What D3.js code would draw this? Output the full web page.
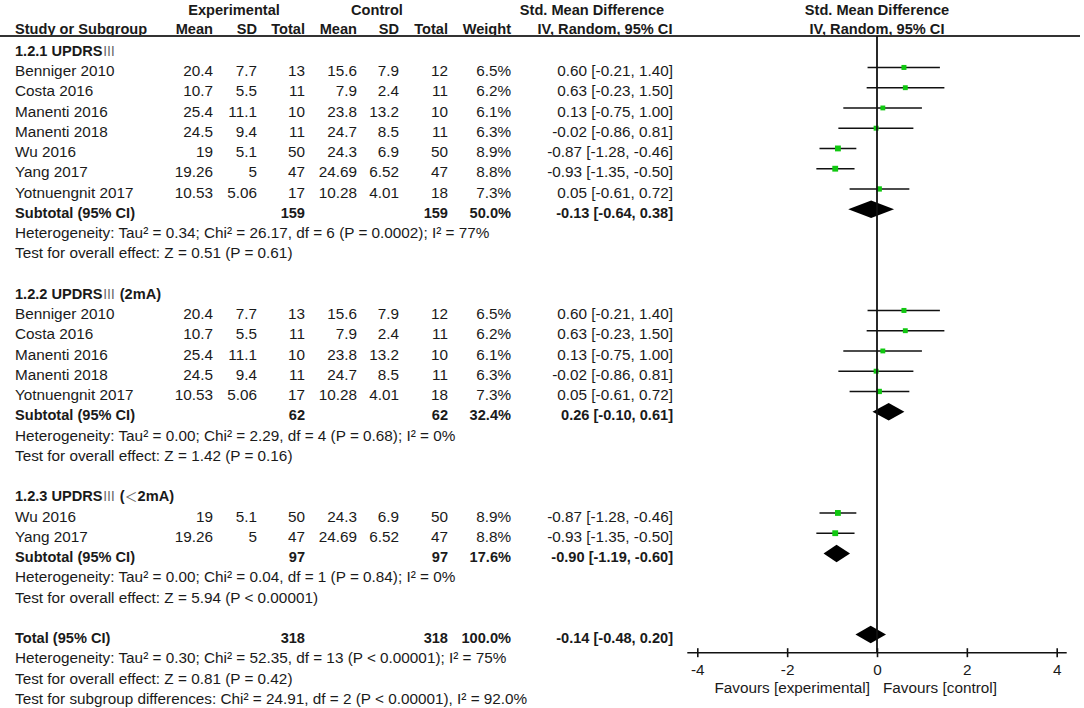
<!DOCTYPE html>
<html>
<head>
<meta charset="utf-8">
<script src="https://cdn.jsdelivr.net/npm/d3@7"></script>
<style>
  html, body { margin: 0; padding: 0; background: #fff; }
  svg { display: block; }
  text { font-family: "Liberation Sans", Arial, sans-serif; font-size: 15.3px; fill: #1a1a1a; }
  .b { font-weight: bold; font-size: 14.6px; }
</style>
</head>
<body>
<svg id="chart" width="1084" height="708"></svg>
<script>
// ---------------- DATA ----------------
const studyNames = ["Benniger 2010", "Costa 2016", "Manenti 2016", "Manenti 2018", "Wu 2016", "Yang 2017", "Yotnuengnit 2017"];
const expMean = [20.4, 10.7, 25.4, 24.5, 19, 19.26, 10.53];
const expSD   = [7.7, 5.5, 11.1, 9.4, 5.1, 5, 5.06];
const expN    = [13, 11, 10, 11, 50, 47, 17];
const ctlMean = [15.6, 7.9, 23.8, 24.7, 24.3, 24.69, 10.28];
const ctlSD   = [7.9, 2.4, 13.2, 8.5, 6.9, 6.52, 4.01];
const ctlN    = [12, 11, 10, 11, 50, 47, 18];
const weightPct = [6.5, 6.2, 6.1, 6.3, 8.9, 8.8, 7.3];
const smd     = [0.60, 0.63, 0.13, -0.02, -0.87, -0.93, 0.05];
const ciLow   = [-0.21, -0.23, -0.75, -0.86, -1.28, -1.35, -0.61];
const ciHigh  = [1.40, 1.50, 1.00, 0.81, -0.46, -0.50, 0.72];

const groupLabels  = ["1.2.1 UPDRS", "1.2.2 UPDRS", "1.2.3 UPDRS"];
const groupRoman   = ["Ⅲ", "Ⅲ", "Ⅲ"];
const groupParen   = ["", "2mA", "＜2mA"];
const groupMembers = [[0, 1, 2, 3, 4, 5, 6], [0, 1, 2, 3, 6], [4, 5]];
const subExpN   = [159, 62, 97];
const subCtlN   = [159, 62, 97];
const subWeight = [50.0, 32.4, 17.6];
const subSMD    = [-0.13, 0.26, -0.90];
const subLow    = [-0.64, -0.10, -1.19];
const subHigh   = [0.38, 0.61, -0.60];
const subHet = [
  "Heterogeneity: Tau² = 0.34; Chi² = 26.17, df = 6 (P = 0.0002); I² = 77%",
  "Heterogeneity: Tau² = 0.00; Chi² = 2.29, df = 4 (P = 0.68); I² = 0%",
  "Heterogeneity: Tau² = 0.00; Chi² = 0.04, df = 1 (P = 0.84); I² = 0%"
];
const subTest = [
  "Test for overall effect: Z = 0.51 (P = 0.61)",
  "Test for overall effect: Z = 1.42 (P = 0.16)",
  "Test for overall effect: Z = 5.94 (P < 0.00001)"
];
const totalExpN = 318, totalCtlN = 318, totalWeight = 100.0;
const totalSMD = -0.14, totalLow = -0.48, totalHigh = 0.20;
const totalNotes = [
  "Heterogeneity: Tau² = 0.30; Chi² = 52.35, df = 13 (P < 0.00001); I² = 75%",
  "Test for overall effect: Z = 0.81 (P = 0.42)",
  "Test for subgroup differences: Chi² = 24.91, df = 2 (P < 0.00001), I² = 92.0%"
];
const tickValues = [-4, -2, 0, 2, 4];
const favourLeft = "Favours [experimental]";
const favourRight = "Favours [control]";

// ---------------- LAYOUT ----------------
const svg = d3.select("#chart");
const rowY = i => 10 + 20.25 * i;          // text centre of row i
const base = i => rowY(i) + 5.3 - (i === 1 ? 2 : 0);
const markY = i => rowY(i) - 3.3;          // mark centre

const colX = { name: 15, em: 213, esd: 257, en: 305, cm: 357, csd: 399, cn: 448, w: 511, ci: 673 };
const x = d3.scaleLinear().domain([-4, 4]).range([697.3, 1056.7]);
const sq = d3.scaleSqrt().domain([0, 10]).range([0, 6.2]);
const fmt2 = d3.format(".2f");
const fmtCI = (m, l, h) => `${fmt2(m)} [${fmt2(l)}, ${fmt2(h)}]`.replace(/−/g, "-");
const fmtW = w => w.toFixed(1) + "%";

function txt(str, xx, i, anchor, bold) {
  return svg.append("text").attr("x", xx).attr("y", base(i))
    .attr("text-anchor", anchor || "start").attr("class", bold ? "b" : null).text(str);
}
function light(t, s) {
  t.append("tspan").attr("font-weight", "normal").attr("fill", "#666")
    .style("font-family", "'Noto Sans CJK SC', sans-serif").style("font-size", "13px").text(s);
}

// headers
txt("Experimental", 234, 0, "middle", true);
txt("Control", 377, 0, "middle", true);
txt("Std. Mean Difference", 592, 0, "middle", true);
txt("Std. Mean Difference", 877, 0, "middle", true);
txt("Study or Subgroup", colX.name, 1, "start", true);
txt("Mean", colX.em, 1, "end", true);
txt("SD", colX.esd, 1, "end", true);
txt("Total", colX.en, 1, "end", true);
txt("Mean", colX.cm, 1, "end", true);
txt("SD", colX.csd, 1, "end", true);
txt("Total", colX.cn, 1, "end", true);
txt("Weight", colX.w, 1, "end", true);
txt("IV, Random, 95% CI", 605, 1, "middle", true);
txt("IV, Random, 95% CI", 877, 1, "middle", true);

svg.append("line").attr("x1", 0).attr("x2", 1080).attr("y1", 36).attr("y2", 36)
  .attr("stroke", "#333").attr("stroke-width", 2);

const plot = svg.append("g");
function diamond(i, m, l, h) {
  const cy = markY(i), hh = 8.7;
  plot.append("path")
    .attr("d", `M${x(l)},${cy} L${x(m)},${cy - hh} L${x(h)},${cy} L${x(m)},${cy + hh} Z`)
    .attr("fill", "#000");
}
function studyMark(i, k) {
  const cy = markY(i);
  plot.append("line").attr("x1", x(ciLow[k])).attr("x2", x(ciHigh[k]))
    .attr("y1", cy).attr("y2", cy).attr("stroke", "#111").attr("stroke-width", 1.6);
  const s = sq(weightPct[k]);
  plot.append("rect").attr("x", x(smd[k]) - s / 2).attr("y", cy - s / 2)
    .attr("width", s).attr("height", s).attr("fill", "#10c810");
}

let r = 2;
groupLabels.forEach((g, gi) => {
  const t = txt(g, colX.name, r, "start", true);
  light(t, groupRoman[gi]);
  const p = groupParen[gi];
  if (p) {
    t.append("tspan").text(" (");
    if (p.charAt(0) === "＜") { light(t, "＜"); t.append("tspan").text(p.slice(1) + ")"); }
    else t.append("tspan").text(p + ")");
  }
  r++;
  groupMembers[gi].forEach(k => {
    txt(studyNames[k], colX.name, r);
    txt(String(expMean[k]), colX.em, r, "end");
    txt(String(expSD[k]), colX.esd, r, "end");
    txt(String(expN[k]), colX.en, r, "end");
    txt(String(ctlMean[k]), colX.cm, r, "end");
    txt(String(ctlSD[k]), colX.csd, r, "end");
    txt(String(ctlN[k]), colX.cn, r, "end");
    txt(fmtW(weightPct[k]), colX.w, r, "end");
    txt(fmtCI(smd[k], ciLow[k], ciHigh[k]), colX.ci, r, "end");
    studyMark(r, k);
    r++;
  });
  txt("Subtotal (95% CI)", colX.name, r, "start", true);
  txt(String(subExpN[gi]), colX.en, r, "end", true);
  txt(String(subCtlN[gi]), colX.cn, r, "end", true);
  txt(fmtW(subWeight[gi]), colX.w, r, "end", true);
  txt(fmtCI(subSMD[gi], subLow[gi], subHigh[gi]), colX.ci, r, "end", true);
  diamond(r, subSMD[gi], subLow[gi], subHigh[gi]);
  r++;
  txt(subHet[gi], colX.name, r); r++;
  txt(subTest[gi], colX.name, r); r++;
  r++;
});

txt("Total (95% CI)", colX.name, r, "start", true);
txt(String(totalExpN), colX.en, r, "end", true);
txt(String(totalCtlN), colX.cn, r, "end", true);
txt(fmtW(totalWeight), colX.w, r, "end", true);
txt(fmtCI(totalSMD, totalLow, totalHigh), colX.ci, r, "end", true);
diamond(r, totalSMD, totalLow, totalHigh);
r++;
totalNotes.forEach(n => { txt(n, colX.name, r); r++; });

// axis
const axisY = 652.7;
plot.append("line").attr("x1", x(0)).attr("x2", x(0)).attr("y1", 36).attr("y2", axisY)
  .attr("stroke", "#111").attr("stroke-width", 1.8);
const axisG = svg.append("g").attr("transform", `translate(0,${axisY})`)
  .call(d3.axisBottom(x).tickValues(tickValues).tickSize(0).tickFormat(d => String(d)));
axisG.select(".domain").remove();
axisG.selectAll(".tick text").attr("y", 0).attr("dy", "22.5px")
  .style("font-family", "'Liberation Sans', Arial, sans-serif").style("font-size", "15.3px").attr("fill", "#1a1a1a");
axisG.selectAll(".tick").append("line").attr("y1", -4.5).attr("y2", 4.5)
  .attr("stroke", "#111").attr("stroke-width", 1.6);
axisG.append("line").attr("x1", x.range()[0] - 10).attr("x2", x.range()[1] + 10)
  .attr("stroke", "#111").attr("stroke-width", 1.6);

svg.append("text").attr("x", 870).attr("y", 693).attr("text-anchor", "end").text(favourLeft);
svg.append("text").attr("x", 883).attr("y", 693).attr("text-anchor", "start").text(favourRight);
</script>
</body>
</html>
